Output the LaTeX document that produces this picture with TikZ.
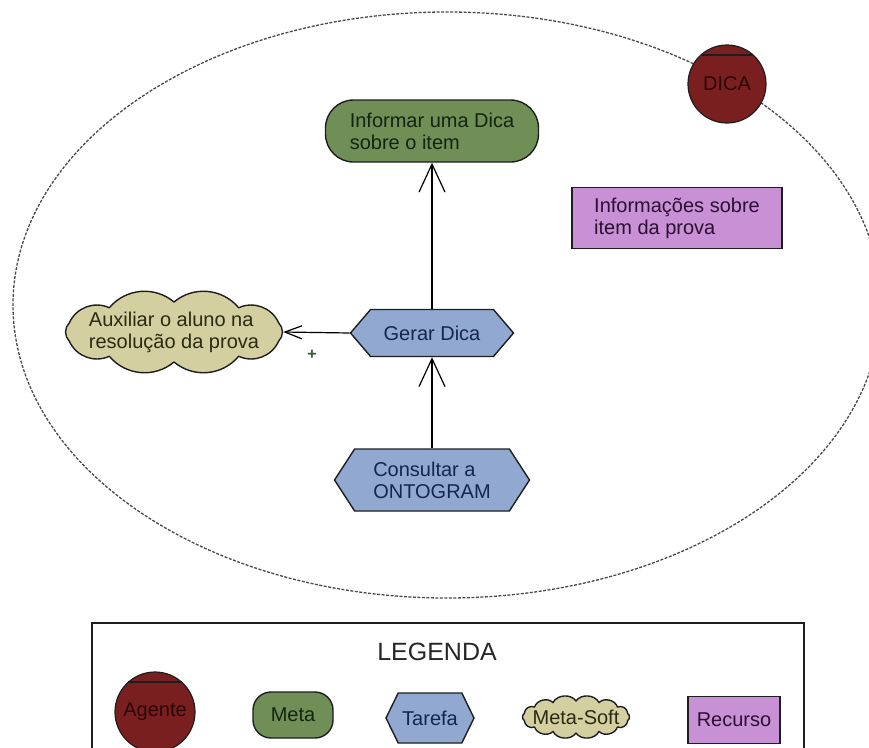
\documentclass[tikz,border=0pt]{standalone}
\usepackage{fontspec}
\setmainfont{Liberation Sans}
\usetikzlibrary{shapes.symbols,shapes.misc,arrows.meta}

\definecolor{agentfill}{HTML}{7A1F1F}
\definecolor{agenttext}{HTML}{2B0505}
\definecolor{metafill}{HTML}{6F8F57}
\definecolor{metatext}{HTML}{142410}
\definecolor{taskfill}{HTML}{91A9D1}
\definecolor{tasktext}{HTML}{15264A}
\definecolor{softfill}{HTML}{D4CFA1}
\definecolor{softtext}{HTML}{2A2A12}
\definecolor{resfill}{HTML}{C890D5}
\definecolor{restext}{HTML}{2C0F33}
\definecolor{edgecol}{HTML}{1E1E1E}
\definecolor{boundary}{HTML}{4A4A4A}
\definecolor{plusgreen}{HTML}{2F5E2F}

% cloud outline of a soft goal: centre x, centre y, x radius, y radius, puffs, bend
\newcommand{\nuvem}[6]{%
  \path[softshape] ({#1+#3*cos(180/#5)},{#2+#4*sin(180/#5)})
    \foreach \k in {1,...,#5}{
      to[bend left=#6] ({#1+#3*cos(180/#5+360*\k/#5)},{#2+#4*sin(180/#5+360*\k/#5)})
    } -- cycle;}

\begin{document}
\begin{tikzpicture}[x=1pt,y=-1pt,
  every node/.style={font=\fontsize{20}{22}\selectfont, inner sep=0pt},
  agente/.style={circle, draw=edgecol, line width=1.2pt, fill=agentfill,
    text=agenttext, minimum size=#1},
  meta/.style={rectangle, rounded corners=#1, draw=edgecol, line width=1.4pt,
    fill=metafill, text=metatext, align=left},
  tarefa/.style={signal, signal to=east and west, signal pointer angle=#1,
    draw=edgecol, line width=1.4pt, fill=taskfill, text=tasktext, align=left},
  softshape/.style={draw=edgecol, line width=1.4pt, fill=softfill, line join=round},
  softgoal/.style={rectangle, text=softtext, align=left},
  recurso/.style={rectangle, draw=edgecol, line width=1.4pt, fill=resfill,
    text=restext, align=left},
  link/.style={draw=black, line width=1.2pt},
  decomp/.style={link, -{Straight Barb[length=28pt,width=26pt]}},
  contrib/.style={link, -{Straight Barb[length=17pt,width=13pt]}},
  chord/.style={draw=edgecol, line width=1.4pt},
]
\useasboundingbox (0,0) rectangle (869,747);
\clip (0,0) rectangle (869,747);

% boundary of the agent DICA
\draw[boundary, line width=1.3pt, dash pattern=on 3pt off 1.5pt]
  (447,305) ellipse [x radius=434, y radius=293];

% agent
\node[agente=78] (dica) at (727,84) {DICA};
\draw[chord] ([xshift=-26pt,yshift=29pt]dica.center) -- ([xshift=26pt,yshift=29pt]dica.center);

% internal elements
\node[meta=28, minimum width=213, minimum height=62] (informar) at (432,131)
  {Informar uma Dica\\sobre o item};
\node[recurso, minimum width=210, minimum height=61] (infos) at (677,218)
  {Informações sobre\\item da prova};
\nuvem{174}{332}{110}{30}{10}{45}
\node[softgoal, minimum width=218, minimum height=77] (auxiliar) at (174,332)
  {Auxiliar o aluno na\\resolução da prova};
\node[tarefa=99, minimum width=163, minimum height=47] (gerar) at (432,333)
  {Gerar Dica};
\node[tarefa=114, minimum width=195, minimum height=62] (consultar) at (432,480)
  {Consultar a\\ONTOGRAM};

% links
\draw[decomp] (gerar.north) -- (informar.south);
\draw[decomp] (consultar.north) -- (gerar.south);
\draw[contrib] (gerar.west) -- (auxiliar.east);
\node[text=plusgreen, font=\bfseries\fontsize{16}{16}\selectfont] (sinal) at (312,355) {+};

% legend
\draw[edgecol, line width=1.4pt] (92,623) rectangle (804,770);
\node[font=\fontsize{25}{25}\selectfont, text=black!85] (legenda) at (437,652) {LEGENDA};
\node[agente=80] (lagente) at (155,712) {Agente};
\draw[chord] ([xshift=-27pt,yshift=30pt]lagente.center) -- ([xshift=27pt,yshift=30pt]lagente.center);
\node[meta=18, minimum width=80, minimum height=46] (lmeta) at (293,715) {Meta};
\node[tarefa=128, minimum width=88, minimum height=50] (ltarefa) at (430,718) {Tarefa};
\nuvem{576}{717}{53}{16}{14}{60}
\node[softgoal, minimum width=110, minimum height=41] (lsoft) at (576,717) {Meta-Soft};
\node[recurso, minimum width=92, minimum height=47] (lrecurso) at (734,720) {Recurso};
\end{tikzpicture}
\end{document}
